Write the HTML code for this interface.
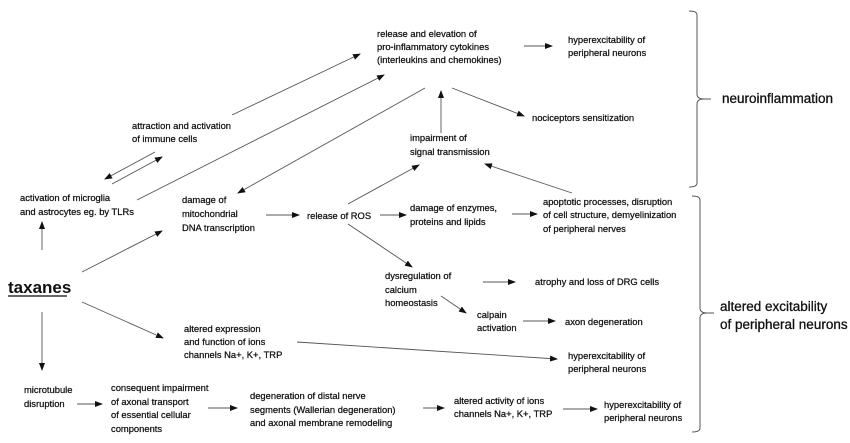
<!DOCTYPE html>
<html><head><meta charset="utf-8"><style>
html,body{margin:0;padding:0;background:#fff;}
svg{display:block;}
text{font-family:"Liberation Sans",sans-serif;font-size:9.4px;fill:#111;stroke:#111;stroke-width:0.25;}
.big{font-size:13.5px;stroke-width:0.3;}
</style></head><body>
<svg width="850" height="443" viewBox="0 0 850 443" xmlns="http://www.w3.org/2000/svg">
<defs><marker id="a" markerWidth="8" markerHeight="6" refX="7" refY="3" orient="auto" markerUnits="userSpaceOnUse"><path d="M0,0 L8,3 L0,6 z" fill="#111"/></marker></defs>
<g stroke="#555" stroke-width="0.9" fill="none" marker-end="url(#a)">
<line x1="524" y1="46" x2="552" y2="46"/>
<line x1="452" y1="88" x2="524" y2="116"/>
<line x1="441" y1="133" x2="441" y2="91"/>
<line x1="155" y1="152" x2="105" y2="179"/>
<line x1="112" y1="184" x2="162" y2="157"/>
<line x1="232" y1="115" x2="360" y2="54"/>
<line x1="137" y1="200" x2="384" y2="75"/>
<line x1="425" y1="88" x2="238" y2="193"/>
<line x1="42" y1="250" x2="42" y2="222"/>
<line x1="266" y1="215" x2="299" y2="215"/>
<line x1="380" y1="215" x2="406" y2="215"/>
<line x1="348" y1="204" x2="419" y2="165"/>
<line x1="348" y1="224" x2="412" y2="267"/>
<line x1="572" y1="193" x2="485" y2="164"/>
<line x1="512" y1="214" x2="537" y2="214"/>
<line x1="82" y1="272" x2="162" y2="231"/>
<line x1="483" y1="282" x2="515" y2="282"/>
<line x1="441" y1="296" x2="466" y2="313"/>
<line x1="523" y1="321" x2="555" y2="321"/>
<line x1="82" y1="302" x2="163" y2="338"/>
<line x1="297" y1="342" x2="557" y2="359"/>
<line x1="42" y1="312" x2="42" y2="370"/>
<line x1="77" y1="404" x2="102" y2="404"/>
<line x1="208" y1="408" x2="237" y2="408"/>
<line x1="423" y1="408" x2="444" y2="408"/>
<line x1="563" y1="409" x2="597" y2="409"/>
</g>
<g stroke="#555" stroke-width="1" fill="none">
<path d="M689,11 Q697,11 697,15 L697,94 Q697,99 704,99 L711,99 M704,99 Q697,99 697,104 L697,183 Q697,187 689,187"/>
<path d="M692,196 Q700,196 700,200 L700,308 Q700,313 707,313 L714,313 M707,313 Q700,313 700,318 L700,428 Q700,432 692,432"/>
</g>
<text x="377" y="37">release and elevation of</text>
<text x="377" y="50">pro-inflammatory cytokines</text>
<text x="377" y="63">(interleukins and chemokines)</text>
<text x="568" y="43">hyperexcitability of</text>
<text x="568" y="56">peripheral neurons</text>
<text x="532" y="121">nociceptors sensitization</text>
<text x="410" y="141">impairment of</text>
<text x="410" y="155">signal transmission</text>
<text x="132" y="129">attraction and activation</text>
<text x="132" y="142">of immune cells</text>
<text x="20" y="201">activation of microglia</text>
<text x="20" y="215">and astrocytes eg. by TLRs</text>
<text x="182" y="203">damage of</text>
<text x="182" y="217">mitochondrial</text>
<text x="182" y="231">DNA transcription</text>
<text x="307" y="219">release of ROS</text>
<text x="410" y="211">damage of enzymes,</text>
<text x="410" y="225">proteins and lipids</text>
<text x="543" y="205">apoptotic processes, disruption</text>
<text x="543" y="218">of cell structure, demyelinization</text>
<text x="543" y="232">of peripheral nerves</text>
<text x="8" y="293" style="font-size:17px;font-weight:bold;stroke-width:0">taxanes</text>
<line x1="8" y1="296" x2="67" y2="296" stroke="#333" stroke-width="1.5"/>
<text x="385" y="279">dysregulation of</text>
<text x="385" y="293">calcium</text>
<text x="385" y="306">homeostasis</text>
<text x="535" y="285">atrophy and loss of DRG cells</text>
<text x="477" y="318">calpain</text>
<text x="477" y="331">activation</text>
<text x="565" y="325">axon degeneration</text>
<text x="184" y="332">altered expression</text>
<text x="184" y="345">and function of ions</text>
<text x="184" y="358">channels Na+, K+, TRP</text>
<text x="568" y="359">hyperexcitability of</text>
<text x="568" y="372">peripheral neurons</text>
<text x="24" y="393">microtubule</text>
<text x="24" y="407">disruption</text>
<text x="111" y="391">consequent impairment</text>
<text x="111" y="405">of axonal transport</text>
<text x="111" y="418">of essential cellular</text>
<text x="111" y="432">components</text>
<text x="250" y="399">degeneration of distal nerve</text>
<text x="250" y="413">segments (Wallerian degeneration)</text>
<text x="250" y="426">and axonal membrane remodeling</text>
<text x="454" y="404">altered activity of ions</text>
<text x="454" y="417">channels Na+, K+, TRP</text>
<text x="604" y="408">hyperexcitability of</text>
<text x="604" y="421">peripheral neurons</text>
<text class="big" x="722" y="103">neuroinflammation</text>
<text class="big" x="720" y="311">altered excitability</text>
<text class="big" x="720" y="329">of peripheral neurons</text>
</svg>
</body></html>
